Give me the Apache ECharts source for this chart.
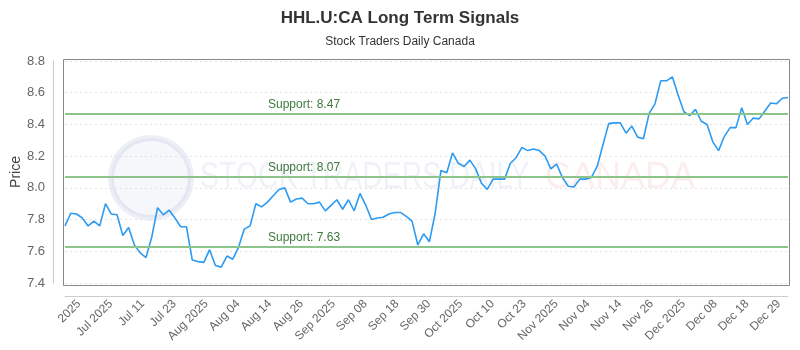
<!DOCTYPE html>
<html>
<head>
<meta charset="utf-8">
<script src="https://cdn.jsdelivr.net/npm/echarts@6/dist/echarts.min.js"></script>
<style>
  html,body{margin:0;padding:0;background:#fff;}
  #chart{width:800px;height:350px;}
</style>
</head>
<body>
<div id="chart"></div>
<script>
// HHL.U:CA 长期信号 — 日收盘价 + 三条支撑线

var prices = [
  7.76,7.84,7.835,7.81,7.76,7.79,7.76,7.90,7.835,7.83,
  7.70,7.75,7.64,7.59,7.56,7.69,7.875,7.83,7.86,7.81,
  7.755,7.755,7.545,7.535,7.53,7.61,7.51,7.50,7.57,7.55,
  7.625,7.74,7.76,7.90,7.88,7.91,7.95,7.99,8.00,7.91,
  7.93,7.935,7.90,7.90,7.91,7.855,7.89,7.925,7.865,7.925,
  7.855,7.965,7.89,7.80,7.81,7.815,7.835,7.845,7.845,7.82,
  7.79,7.64,7.71,7.66,7.84,8.11,8.095,8.22,8.155,8.135,
  8.175,8.12,8.03,7.99,8.055,8.055,8.055,8.155,8.19,8.255,
  8.235,8.245,8.235,8.20,8.12,8.15,8.065,8.01,8.005,8.055,
  8.055,8.065,8.135,8.27,8.405,8.41,8.41,8.345,8.39,8.32,
  8.31,8.47,8.53,8.675,8.675,8.70,8.585,8.48,8.455,8.495,
  8.42,8.40,8.29,8.235,8.325,8.38,8.38,8.505,8.40,8.44,
  8.435,8.485,8.535,8.53,8.565,8.57
];
var days = prices.map(function(_, i){ return i; });

var tickLabels = [
  '2025','Jul 2025','Jul 11','Jul 23','Aug 2025','Aug 04','Aug 14','Aug 26',
  'Sep 2025','Sep 08','Sep 18','Sep 30','Oct 2025','Oct 10','Oct 23',
  'Nov 2025','Nov 04','Nov 14','Nov 26','Dec 2025','Dec 08','Dec 18','Dec 29'
];

var supports = [8.47, 8.07, 7.63];

var FONT = '"Liberation Sans Narrow", "Liberation Sans", sans-serif';

var chart = echarts.init(document.getElementById('chart'));

chart.setOption({
  animation: false,
  backgroundColor: '#fff',
  textStyle: { fontFamily: FONT },
  title: {
    text: 'HHL.U:CA Long Term Signals',
    subtext: 'Stock Traders Daily Canada',
    left: 'center', top: 5, itemGap: 9,
    textStyle: { fontFamily: FONT, fontSize: 17, fontWeight: 'bold', color: '#333' },
    subtextStyle: { fontFamily: FONT, fontSize: 12, color: '#333' }
  },
  graphic: [
    // 水印
    { type: 'circle', shape: { cx: 151, cy: 178, r: 40 }, silent: true, z: -1,
      style: { fill: 'rgba(70,100,170,0.05)', stroke: 'rgba(70,100,170,0.10)', lineWidth: 6 } },
    { type: 'text', x: 200, y: 160, scaleX: 0.79, silent: true, z: -1,
      style: { text: 'STOCK TRADERS DAILY', font: '36px ' + FONT, fill: 'rgba(40,70,150,0.07)' } },
    { type: 'text', x: 545, y: 160, silent: true, z: -1,
      style: { text: 'CANADA', font: '36px ' + FONT, fill: 'rgba(230,40,40,0.08)' } },
    // 绘图区边框
    { type: 'rect', shape: { x: 63.5, y: 59.5, width: 726, height: 226 }, silent: true,
      style: { fill: 'none', stroke: '#888', lineWidth: 1 } }
  ],
  grid: [
    { left: 65, right: 12, top: 61, bottom: 67, outerBoundsMode: 'none' },
    { left: 79, right: 21, top: 61, bottom: 54, outerBoundsMode: 'none' }
  ],
  xAxis: [
    {
      type: 'category', gridIndex: 0, data: days, boundaryGap: false, offset: 13,
      axisLine: { onZero: false, lineStyle: { color: '#ccc' } },
      axisTick: { show: false }, axisLabel: { show: false }, splitLine: { show: false }
    },
    {
      type: 'category', gridIndex: 1, data: tickLabels, boundaryGap: false,
      axisLine: { show: false }, axisTick: { show: false },
      axisLabel: { interval: 0, rotate: 45, margin: 6, fontSize: 12, color: '#666', fontFamily: FONT }
    }
  ],
  yAxis: [
    {
      type: 'value', gridIndex: 0, min: 7.4, max: 8.8, interval: 0.2, offset: 12,
      name: 'Price', nameLocation: 'middle', nameGap: 30, nameMoveOverlap: false,
      nameTextStyle: { fontSize: 14, color: '#444', fontFamily: FONT },
      axisLine: { show: true, onZero: false, lineStyle: { color: '#c8c8c8', width: 1 } },
      axisTick: { show: false },
      axisLabel: { margin: 8, fontSize: 13, color: '#666', fontFamily: FONT,
        formatter: function(v){ return v.toFixed(1); } },
      splitLine: { lineStyle: { color: '#e3e3e3', type: [2, 3] } }
    },
    { type: 'value', gridIndex: 1, show: false }
  ],
  series: [{
    type: 'line', xAxisIndex: 0, yAxisIndex: 0, data: prices,
    showSymbol: false, symbol: 'none',
    lineStyle: { color: '#2e9bf2', width: 1.6 },
    markLine: {
      silent: true, symbol: 'none', animation: false,
      lineStyle: { color: '#8cc48c', width: 2, type: 'solid' },
      label: {
        position: 'insideStartTop', distance: [203, 3],
        color: '#3d7a3d', fontSize: 12, fontFamily: FONT,
        formatter: function(p){ return 'Support: ' + p.value.toFixed(2); }
      },
      data: supports.map(function(s){ return { yAxis: s }; })
    }
  }]
});
</script>
</body>
</html>
